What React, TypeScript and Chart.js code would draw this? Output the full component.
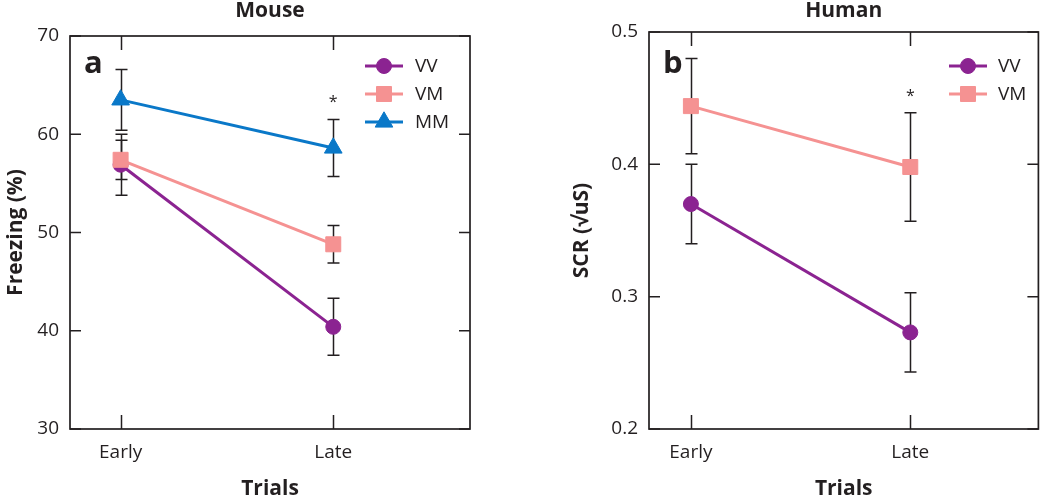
import React, { useEffect, useRef } from 'react';
import { Chart, registerables } from 'chart.js';
import { drawPoint } from 'chart.js/helpers';

Chart.register(...registerables);

// ---------------- data ----------------
const trials = ['Early', 'Late'];
const trialX = [1, 2];

const mouseVV = [56.9, 40.4];
const mouseVVErr = [3.1, 2.9];
const mouseVM = [57.4, 48.8];
const mouseVMErr = [2.0, 1.9];
const mouseMM = [63.5, 58.6];
const mouseMMErr = [3.1, 2.9];
const mouseTicks = [30, 40, 50, 60, 70];
const mouseStar = [63.7];

const humanVV = [0.370, 0.273];
const humanVVErr = [0.030, 0.030];
const humanVM = [0.444, 0.398];
const humanVMErr = [0.036, 0.041];
const humanTicks = [0.2, 0.3, 0.4, 0.5];
const humanStar = [0.455];

// ---------------- styles ----------------
const INK = '#231f20';
const PURPLE = '#8b2391';
const PINK = '#f59292';
const BLUE = '#0a78c8';
const FONT = "'Open Sans', 'Noto Sans', sans-serif";

const pts = (ys: number[]) => ys.map((y, i) => ({ x: trialX[i], y }));

const decorPlugin = {
  id: 'panelDecor',
  beforeDatasetsDraw(chart: any, _args: any, opts: any) {
    const { ctx, scales } = chart;
    const xs = scales.x, ys = scales.y;
    ctx.save();
    ctx.strokeStyle = INK;
    ctx.lineWidth = 1.5;
    chart.data.datasets.forEach((ds: any, di: number) => {
      const err = opts.errors[di];
      ds.data.forEach((p: any, i: number) => {
        const x = Math.round(xs.getPixelForValue(p.x)) + 0.5;
        const y1 = ys.getPixelForValue(p.y + err[i]);
        const y2 = ys.getPixelForValue(p.y - err[i]);
        ctx.beginPath();
        ctx.moveTo(x, y1); ctx.lineTo(x, y2);
        ctx.moveTo(x - 6, y1); ctx.lineTo(x + 6, y1);
        ctx.moveTo(x - 6, y2); ctx.lineTo(x + 6, y2);
        ctx.stroke();
      });
    });
    ctx.restore();
  },
  afterDraw(chart: any, _args: any, opts: any) {
    const { ctx, chartArea: ca, scales } = chart;
    const xs = scales.x, ys = scales.y;
    ctx.save();
    // frame
    ctx.strokeStyle = INK;
    ctx.lineWidth = 1.7;
    ctx.strokeRect(ca.left, ca.top, ca.right - ca.left, ca.bottom - ca.top);
    // inward ticks
    ctx.lineWidth = 1.5;
    ctx.beginPath();
    ys.ticks.forEach((t: any) => {
      const y = ys.getPixelForValue(t.value);
      ctx.moveTo(ca.left, y); ctx.lineTo(ca.left + 11, y);
      ctx.moveTo(ca.right, y); ctx.lineTo(ca.right - 11, y);
    });
    xs.ticks.forEach((t: any) => {
      const x = Math.round(xs.getPixelForValue(t.value)) + 0.5;
      ctx.moveTo(x, ca.bottom); ctx.lineTo(x, ca.bottom - 14);
      ctx.moveTo(x, ca.top); ctx.lineTo(x, ca.top + 14);
    });
    ctx.stroke();

    ctx.fillStyle = INK;
    // title
    ctx.font = `bold 21px ${FONT}`;
    ctx.textAlign = 'center';
    ctx.textBaseline = 'alphabetic';
    ctx.fillText(opts.title, (ca.left + ca.right) / 2, 17);
    // panel letter
    ctx.font = `bold 31px ${FONT}`;
    ctx.textAlign = 'left';
    ctx.fillText(opts.letter, ca.left + 14, 73);
    // asterisk
    ctx.font = `16px ${FONT}`;
    ctx.textAlign = 'center';
    const sx = xs.getPixelForValue(trialX[1]);
    ctx.fillText('*', sx, ys.getPixelForValue(opts.star[0]) + 16 * 0.6);
    // legend
    const lg = opts.legend;
    chart.data.datasets.forEach((ds: any, i: number) => {
      const y = lg.y + i * lg.gap;
      ctx.strokeStyle = ds.borderColor;
      ctx.lineWidth = ds.borderWidth;
      ctx.beginPath();
      ctx.moveTo(lg.x1, y); ctx.lineTo(lg.x2, y);
      ctx.stroke();
      ctx.fillStyle = ds.backgroundColor;
      ctx.strokeStyle = ds.borderColor;
      ctx.lineWidth = ds.pointBorderWidth;
      drawPoint(ctx, { pointStyle: ds.pointStyle, radius: ds.pointRadius, rotation: 0, borderWidth: ds.pointBorderWidth }, (lg.x1 + lg.x2) / 2, y);
      ctx.fillStyle = INK;
      ctx.font = `19px ${FONT}`;
      ctx.textAlign = 'left';
      ctx.textBaseline = 'middle';
      ctx.fillText(ds.label, lg.tx, y + 1);
    });
    ctx.restore();
  },
};

function makeDataset(label: string, data: number[], color: string, style: string, radius: number, order: number) {
  return {
    label,
    data: pts(data),
    borderColor: color,
    backgroundColor: color,
    borderWidth: 3,
    pointStyle: style,
    pointRadius: radius,
    pointHoverRadius: radius,
    pointBorderWidth: 1,
    pointBackgroundColor: color,
    pointBorderColor: color,
    order,
  };
}

interface PanelProps {
  datasets: any[];
  errors: number[][];
  yTicks: number[];
  yTitle: string;
  yTitleOffset: number;
  yWidth: number;
  padTop: number;
  padRight: number;
  xMin: number;
  xMax: number;
  title: string;
  letter: string;
  star: number[];
  legend: any;
  fmt: (v: number) => string;
}

function Panel(p: PanelProps) {
  const ref = useRef<HTMLCanvasElement>(null);
  useEffect(() => {
    if (!ref.current) return;
    const chart = new Chart(ref.current, {
      type: 'line',
      data: { datasets: p.datasets },
      plugins: [decorPlugin],
      options: {
        responsive: false,
        animation: false,
        layout: { padding: { top: p.padTop, right: p.padRight, left: 0, bottom: 0 } },
        plugins: {
          legend: { display: false },
          tooltip: { enabled: false },
          panelDecor: { errors: p.errors, title: p.title, letter: p.letter, star: p.star, legend: p.legend },
        } as any,
        scales: {
          x: {
            type: 'linear',
            min: p.xMin,
            max: p.xMax,
            grid: { display: false, drawTicks: false },
            border: { display: false },
            afterBuildTicks: (s: any) => { s.ticks = trialX.map((v) => ({ value: v })); },
            afterFit: (s: any) => { s.height = 70; },
            ticks: {
              padding: 12,
              color: INK,
              font: { family: FONT, size: 19 },
              callback: (v: any) => trials[trialX.indexOf(Number(v))] ?? '',
            },
            title: {
              display: true,
              text: 'Trials',
              color: INK,
              font: { family: FONT, size: 21, weight: 'bold', lineHeight: 1 },
              padding: { top: 0, bottom: -1 },
            },
          },
          y: {
            type: 'linear',
            min: p.yTicks[0],
            max: p.yTicks[p.yTicks.length - 1],
            grid: { display: false, drawTicks: false },
            border: { display: false },
            afterBuildTicks: (s: any) => { s.ticks = p.yTicks.map((v) => ({ value: v })); },
            afterFit: (s: any) => { s.width = p.yWidth; },
            ticks: {
              padding: 11,
              color: INK,
              font: { family: FONT, size: 19 },
              callback: (v: any) => p.fmt(Number(v)),
            },
            title: {
              display: true,
              text: p.yTitle,
              color: INK,
              font: { family: FONT, size: 21, weight: 'bold', lineHeight: 1.2 },
              padding: { top: p.yTitleOffset, bottom: 0 },
            },
          },
        },
      } as any,
    });
    return () => chart.destroy();
  }, []);
  return <canvas ref={ref} width={525} height={499} style={{ display: 'block', width: 525, height: 499 }} />;
}

export default function App() {
  const mouseSets = [
    makeDataset('VV', mouseVV, PURPLE, 'circle', 7.5, 2),
    makeDataset('VM', mouseVM, PINK, 'rect', 10.6, 1),
    makeDataset('MM', mouseMM, BLUE, 'triangle', 10.2, 0),
  ];
  const humanSets = [
    makeDataset('VV', humanVV, PURPLE, 'circle', 7.5, 1),
    makeDataset('VM', humanVM, PINK, 'rect', 10.6, 0),
  ];
  return (
    <div style={{ position: 'absolute', left: 0, top: 0, width: 1050, height: 499, display: 'flex', background: '#fff' }}>
      <Panel
        datasets={mouseSets}
        errors={[mouseVVErr, mouseVMErr, mouseMMErr]}
        yTicks={mouseTicks}
        yTitle="Freezing (%)"
        yTitleOffset={3}
        yWidth={70}
        padTop={36}
        padRight={55}
        xMin={0.762}
        xMax={2.643}
        title="Mouse"
        letter="a"
        star={mouseStar}
        legend={{ x1: 365, x2: 403, tx: 415, y: 66, gap: 28 }}
        fmt={(v) => String(v)}
      />
      <Panel
        datasets={humanSets}
        errors={[humanVVErr, humanVMErr]}
        yTicks={humanTicks}
        yTitle="SCR (√uS)"
        yTitleOffset={44}
        yWidth={124}
        padTop={32}
        padRight={2}
        xMin={0.809}
        xMax={2.584}
        title="Human"
        letter="b"
        star={humanStar}
        legend={{ x1: 424, x2: 462, tx: 473, y: 66, gap: 28 }}
        fmt={(v) => v.toFixed(1)}
      />
    </div>
  );
}
